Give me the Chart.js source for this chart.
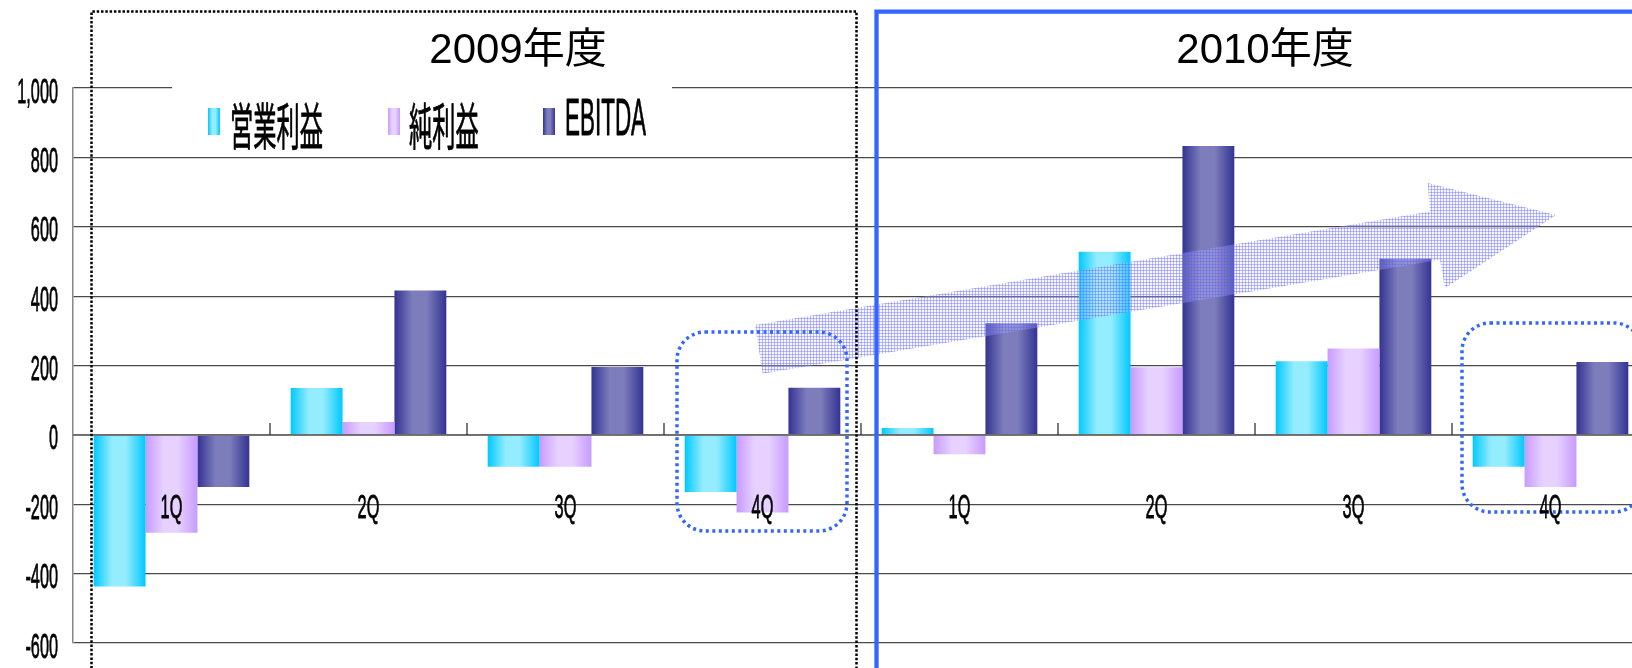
<!DOCTYPE html>
<html>
<head>
<meta charset="utf-8">
<script src="https://cdn.jsdelivr.net/npm/chart.js@4.4.0/dist/chart.umd.min.js"></script>
<style>
  html, body { margin: 0; padding: 0; overflow: hidden; background: #fff; }
  #wrap { width: 1660px; height: 668px; position: relative; }
</style>
</head>
<body>
<div id="wrap"><canvas id="graph"></canvas></div>
<script>
// Données du graphique
const quarters = ['1Q', '2Q', '3Q', '4Q', '1Q', '2Q', '3Q', '4Q'];
const yearLabels = ['2009年度', '2010年度'];
const seriesNames = ['営業利益', '純利益', 'EBITDA'];
const operatingProfit = [-437, 135, -92, -165, 20, 528, 212, -92];
const netProfit = [-282, 37, -92, -224, -56, 195, 249, -150];
const ebitda = [-150, 416, 196, 136, 322, 833, 508, 210];
const yTicks = [-600, -400, -200, 0, 200, 400, 600, 800, 1000];

// Flèche de tendance (index de catégorie, valeur)
const arrowPts = [[2.962, 317], [6.388, 644], [6.377, 726], [7.028, 634], [6.464, 423], [6.439, 505], [3.001, 176]];

// Couleurs des barres : bord, centre
const barColors = [
  ['#00c8ff', '#94ecff'],
  ['#c79bff', '#e7d1ff'],
  ['#333393', '#7d7dbc']
];
const frameBlue = '#3366ff';

function barGradient(ctx, x0, x1, c) {
  const g = ctx.createLinearGradient(x0, 0, x1, 0);
  g.addColorStop(0, c[0]);
  g.addColorStop(0.35, c[1]);
  g.addColorStop(0.62, c[1]);
  g.addColorStop(1, c[0]);
  return g;
}

// Texte compressé horizontalement (comme l'original)
function narrowText(ctx, text, x, y, font, sx, align) {
  ctx.save();
  ctx.translate(x, y);
  ctx.scale(sx, 1);
  ctx.font = font;
  ctx.textAlign = align;
  ctx.textBaseline = 'alphabetic';
  ctx.fillStyle = '#000';
  ctx.strokeStyle = '#000';
  ctx.lineWidth = 0.8;
  ctx.lineJoin = 'round';
  ctx.fillText(text, 0, 0);
  ctx.strokeText(text, 0, 0);
  ctx.restore();
}

function roundBox(ctx, x0, y0, x1, y1, r) {
  ctx.beginPath();
  ctx.moveTo(x0 + r, y0);
  ctx.lineTo(x1 - r, y0);
  ctx.arcTo(x1, y0, x1, y0 + r, r);
  ctx.lineTo(x1, y1 - r);
  ctx.arcTo(x1, y1, x1 - r, y1, r);
  ctx.lineTo(x0 + r, y1);
  ctx.arcTo(x0, y1, x0, y1 - r, r);
  ctx.lineTo(x0, y0 + r);
  ctx.arcTo(x0, y0, x0 + r, y0, r);
  ctx.closePath();
}

// Motif quadrillé de la flèche
const tile = document.createElement('canvas');
tile.width = 3; tile.height = 3;
const tctx = tile.getContext('2d');
tctx.fillStyle = 'rgba(220,220,255,0.25)';
tctx.fillRect(0, 0, 3, 3);
tctx.fillStyle = 'rgba(90,90,255,0.38)';
tctx.fillRect(0, 0, 3, 1);
tctx.fillRect(0, 0, 1, 3);

const decorPlugin = {
  id: 'decor',
  beforeDatasetsDraw(chart) {
    const ctx = chart.ctx;
    chart.data.datasets.forEach((ds, i) => {
      chart.getDatasetMeta(i).data.forEach(bar => {
        bar.options.backgroundColor = barGradient(ctx, bar.x - bar.width / 2, bar.x + bar.width / 2, barColors[i]);
      });
    });
  },
  afterDatasetsDraw(chart) {
    const ctx = chart.ctx;
    const x = chart.scales.x, y = chart.scales.y;
    const zero = y.getPixelForValue(0);
    const step = x.width / quarters.length;

    // Ligne zéro + graduations des catégories
    ctx.save();
    ctx.strokeStyle = 'rgba(110,110,110,0.9)';
    ctx.lineWidth = 2;
    ctx.beginPath();
    ctx.moveTo(x.left, zero);
    ctx.lineTo(x.right, zero);
    ctx.stroke();
    ctx.strokeStyle = '#333';
    ctx.lineWidth = 1.3;
    for (let i = 1; i < quarters.length; i++) {
      const px = x.left + i * step;
      ctx.beginPath();
      ctx.moveTo(px, zero);
      ctx.lineTo(px, zero - 12);
      ctx.stroke();
    }
    ctx.restore();

    // Flèche
    ctx.save();
    ctx.fillStyle = ctx.createPattern(tile, 'repeat');
    ctx.beginPath();
    arrowPts.forEach((p, k) => {
      const px = x.getPixelForValue(p[0]);
      const py = y.getPixelForValue(p[1]);
      if (k === 0) ctx.moveTo(px, py); else ctx.lineTo(px, py);
    });
    ctx.closePath();
    ctx.fill();
    ctx.restore();

    // Cadres pointillés arrondis (4Q)
    ctx.save();
    ctx.strokeStyle = frameBlue;
    ctx.lineWidth = 3.5;
    ctx.setLineDash([3, 3.5]);
    roundBox(ctx, 677, 332, 847, 531, 28);
    ctx.stroke();
    roundBox(ctx, 1462, 323, 1642, 512, 28);
    ctx.stroke();
    ctx.restore();

    // Cadres des années
    ctx.save();
    ctx.strokeStyle = '#000';
    ctx.lineWidth = 2.5;
    ctx.setLineDash([2.5, 1.8]);
    ctx.beginPath();
    ctx.moveTo(91.5, 690);
    ctx.lineTo(91.5, 11.5);
    ctx.lineTo(856.5, 11.5);
    ctx.lineTo(856.5, 690);
    ctx.stroke();
    ctx.setLineDash([]);
    ctx.strokeStyle = frameBlue;
    ctx.lineWidth = 4.3;
    ctx.beginPath();
    ctx.moveTo(876.5, 690);
    ctx.lineTo(876.5, 11.7);
    ctx.lineTo(1700, 11.7);
    ctx.stroke();
    ctx.restore();

    // Libellés des trimestres
    quarters.forEach((q, i) => {
      narrowText(ctx, q, x.getPixelForValue(i), zero + 83, '34px "Liberation Sans", Arial, sans-serif', 0.48, 'center');
    });
  },
  afterDraw(chart) {
    const ctx = chart.ctx;
    const y = chart.scales.y;

    // Graduations de l'axe Y
    yTicks.forEach(v => {
      narrowText(ctx, v.toLocaleString('en-US'), 58, y.getPixelForValue(v) + 14.5, '35px "Liberation Sans", Arial, sans-serif', 0.465, 'right');
    });

    // Légende
    ctx.save();
    ctx.fillStyle = '#fff';
    ctx.fillRect(172, 80, 500, 77);
    ctx.restore();
    const legendX = [[208, 230], [388, 409], [543, 565]];
    seriesNames.forEach((name, i) => {
      const sx0 = legendX[i][0];
      ctx.fillStyle = barGradient(ctx, sx0, sx0 + 12, barColors[i]);
      ctx.fillRect(sx0, 108, 12, 27);
      if (i === 2) {
        narrowText(ctx, name, legendX[i][1], 135, '51px "Liberation Sans", Arial, sans-serif', 0.44, 'left');
      } else {
        narrowText(ctx, name, legendX[i][1], 145, '50px "Noto Sans CJK JP", sans-serif', 0.465, 'left');
      }
    });

    // Titres des années
    ctx.save();
    ctx.font = '42px "Liberation Sans", "Noto Sans CJK JP", sans-serif';
    ctx.textAlign = 'center';
    ctx.fillStyle = '#000';
    ctx.fillText(yearLabels[0], 518, 63);
    ctx.fillText(yearLabels[1], 1265, 63);
    ctx.restore();
  }
};

const ctx = document.getElementById('graph').getContext('2d');
const myChart = new Chart(ctx, {
  type: 'bar',
  data: {
    labels: quarters,
    datasets: [
      { label: seriesNames[0], data: operatingProfit, backgroundColor: c => barColors[c.datasetIndex][0] },
      { label: seriesNames[1], data: netProfit, backgroundColor: c => barColors[c.datasetIndex][0] },
      { label: seriesNames[2], data: ebitda, backgroundColor: c => barColors[c.datasetIndex][0] }
    ]
  },
  options: {
    responsive: true,
    maintainAspectRatio: false,
    animation: false,
    layout: { padding: { left: 73, right: 11, top: 88, bottom: 25 } },
    datasets: { bar: { categoryPercentage: 0.79, barPercentage: 1.0, borderWidth: 0 } },
    scales: {
      x: { display: false },
      y: {
        min: -600,
        max: 1000,
        ticks: { display: false, stepSize: 200 },
        grid: { color: '#4a4a4a', lineWidth: 1.2, drawTicks: false },
        border: { display: true, color: '#888', width: 1.5 }
      }
    },
    plugins: {
      legend: { display: false },
      tooltip: { enabled: false }
    }
  },
  plugins: [decorPlugin]
});
</script>
</body>
</html>
